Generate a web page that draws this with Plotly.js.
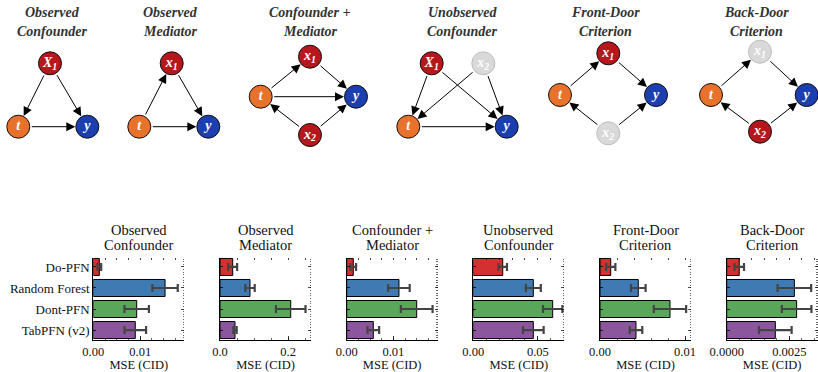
<!DOCTYPE html>
<html><head><meta charset="utf-8">
<script src="https://cdn.plot.ly/plotly-3.0.1.min.js"></script>
<style>html,body{margin:0;padding:0;background:#fff}#chart{width:818px;height:372px}</style>
</head><body><div id="chart"></div>
<script>
// ---------------- data ----------------
const methods = ['Do-PFN', 'Random Forest', 'Dont-PFN', 'TabPFN (v2)'];
const scenarioTitles = [
  ['Observed', 'Confounder'], ['Observed', 'Mediator'], ['Confounder +', 'Mediator'],
  ['Unobserved', 'Confounder'], ['Front-Door', 'Criterion'], ['Back-Door', 'Criterion']
];
const mseObsConf   = [0.00128, 0.0153, 0.00925, 0.00895];
const errObsConf   = [0.0004, 0.0027, 0.0026, 0.0023];
const mseObsMed    = [0.0373, 0.088, 0.2075, 0.044];
const errObsMed    = [0.013, 0.0138, 0.0434, 0.005];
const mseConfMed   = [0.00141, 0.0112, 0.0150, 0.0057];
const errConfMed   = [0.0006, 0.0023, 0.0034, 0.00125];
const mseUnobsConf = [0.0228, 0.0465, 0.0615, 0.0465];
const errUnobsConf = [0.0033, 0.0058, 0.0075, 0.008];
const mseFrontDoor = [0.00126, 0.0045, 0.00823, 0.00423];
const errFrontDoor = [0.00055, 0.00086, 0.0019, 0.00074];
const mseBackDoor  = [0.0005, 0.0027, 0.00279, 0.00194];
const errBackDoor  = [0.00019, 0.00067, 0.00059, 0.00065];
const tickVals   = [[0, 0.01], [0, 0.2], [0, 0.01], [0, 0.05], [0, 0.01], [0, 0.0025]];
const tickLabels = [['0.00', '0.01'], ['0.0', '0.2'], ['0.00', '0.01'], ['0.00', '0.05'], ['0.00', '0.01'], ['0.0000', '0.0025']];
const xAxisTitle = 'MSE (CID)';

// causal graphs
const dagTitles = [
  ['Observed', 'Confounder'], ['Observed', 'Mediator'], ['Confounder +', 'Mediator'],
  ['Unobserved', 'Confounder'], ['Front-Door', 'Criterion'], ['Back-Door', 'Criterion']
];
const dagNodes = [
  [['X1', 'X<sub>1</sub>', 'cov'], ['t', 't', 'treat'], ['y', 'y', 'out']],
  [['x1', 'x<sub>1</sub>', 'cov'], ['t', 't', 'treat'], ['y', 'y', 'out']],
  [['x1', 'x<sub>1</sub>', 'cov'], ['t', 't', 'treat'], ['y', 'y', 'out'], ['x2', 'x<sub>2</sub>', 'cov']],
  [['X1', 'X<sub>1</sub>', 'cov'], ['x2', 'x<sub>2</sub>', 'hidden'], ['t', 't', 'treat'], ['y', 'y', 'out']],
  [['x1', 'x<sub>1</sub>', 'cov'], ['t', 't', 'treat'], ['y', 'y', 'out'], ['x2', 'x<sub>2</sub>', 'hidden']],
  [['x1', 'x<sub>1</sub>', 'hidden'], ['t', 't', 'treat'], ['y', 'y', 'out'], ['x2', 'x<sub>2</sub>', 'cov']]
];
const dagEdges = [
  [['X1', 't'], ['X1', 'y'], ['t', 'y']],
  [['t', 'x1'], ['x1', 'y'], ['t', 'y']],
  [['t', 'x1'], ['x1', 'y'], ['t', 'y'], ['x2', 't'], ['x2', 'y']],
  [['X1', 't'], ['X1', 'y'], ['x2', 't'], ['x2', 'y'], ['t', 'y']],
  [['t', 'x1'], ['x1', 'y'], ['x2', 't'], ['x2', 'y']],
  [['t', 'x1'], ['x1', 'y'], ['x2', 't'], ['x2', 'y']]
];

// ---------------- layout / style ----------------
const W = 818, H = 372;
const mseSets = [mseObsConf, mseObsMed, mseConfMed, mseUnobsConf, mseFrontDoor, mseBackDoor];
const errSets = [errObsConf, errObsMed, errConfMed, errUnobsConf, errFrontDoor, errBackDoor];
const methodColors = ['#d3302f', '#407ab2', '#5aa65a', '#8c569e'];
const xRanges = [0.0194, 0.267, 0.0195, 0.0705, 0.0107, 0.00363];
const minorSteps = [0.0025, 0.05, 0.0025, 0.01, 0.002, 0.0005];
const panelLeft = [93.3, 220, 346.7, 473.3, 600, 726.7];
const panelW = 91, plotTop = 257.5, plotBottom = 339.5;
const yRange = [3.45, -0.45];
const serif = 'Liberation Serif, Times New Roman, serif';

// DAG node pixel positions (layout)
const dagPos = [
  {X1: [50, 63.3], t: [18.3, 126.7], y: [87.3, 126.7]},
  {x1: [171.7, 63.3], t: [139.3, 126.7], y: [208.3, 126.7]},
  {x1: [310, 56.7], t: [260.7, 96.7], y: [356, 96.7], x2: [310, 135]},
  {X1: [431.7, 63.3], x2: [483.3, 63.3], t: [408.3, 126.7], y: [506.7, 126.7]},
  {x1: [608.3, 53.3], t: [560, 95], y: [656, 95], x2: [608.3, 133.3]},
  {x1: [760, 51.7], t: [711, 95], y: [806.7, 95], x2: [760, 131.7]}
];
const dagTitleX = [53, 170, 310.3, 462.4, 605.8, 756.8];
const roleFill = {cov: '#b5171d', treat: '#e8712b', out: '#1b3fae', hidden: '#d9d9d9'};
const roleLine = {cov: '#111', treat: '#111', out: '#111', hidden: '#bdbdbd'};

const traces = [];
const layout = {
  width: W, height: H,
  margin: {l: 0, r: 0, t: 0, b: 0},
  paper_bgcolor: '#fff', plot_bgcolor: 'rgba(0,0,0,0)',
  showlegend: false, bargap: 0.19,
  annotations: []
};

const yDom = [1 - plotBottom / H, 1 - plotTop / H];
for (let i = 0; i < 6; i++) {
  const k = i + 1, kt = i + 7;
  const xd = [panelLeft[i] / W, (panelLeft[i] + panelW) / W];
  const xName = k === 1 ? 'xaxis' : 'xaxis' + k;
  const yName = k === 1 ? 'yaxis' : 'yaxis' + k;
  const xr = k === 1 ? 'x' : 'x' + k;
  const yr = k === 1 ? 'y' : 'y' + k;
  layout[xName] = {
    domain: xd, anchor: yr, range: [0, xRanges[i]],
    showline: true, linecolor: '#000', linewidth: 1,
    ticks: 'inside', ticklen: 3.5, tickwidth: 0.8, tickcolor: '#000',
    tickmode: 'array', tickvals: tickVals[i], ticktext: tickLabels[i],
    minor: {tickmode: 'linear', tick0: 0, dtick: minorSteps[i], ticks: 'inside', ticklen: 2, tickwidth: 0.6, tickcolor: '#000'},
    tickfont: {family: serif, size: 12.5, color: '#111'},
    showgrid: false, zeroline: false,
    title: {text: xAxisTitle, font: {family: serif, size: 12.5, color: '#111'}, standoff: 4}
  };
  layout[yName] = {
    domain: yDom, anchor: xr, type: 'category', categoryarray: methods, range: yRange,
    showline: true, linecolor: '#000', linewidth: 1,
    ticks: 'inside', ticklen: 3, tickwidth: 0.8, tickcolor: '#000',
    showticklabels: i === 0, tickfont: {family: serif, size: 13, color: '#111'},
    showgrid: false, zeroline: false
  };
  // top tick overlay
  layout['xaxis' + kt] = {
    overlaying: xr, side: 'top', anchor: yr, range: [0, xRanges[i]],
    showline: false, ticks: 'inside', tickmode: 'linear', tick0: 0, dtick: minorSteps[i],
    ticklen: 2.5, tickwidth: 0.7, tickcolor: '#000', showticklabels: false,
    showgrid: false, zeroline: false
  };
  // right tick overlay
  layout['yaxis' + kt] = {
    overlaying: yr, side: 'right', anchor: xr, range: yRange,
    showline: false, ticks: 'inside', tickmode: 'array', tickvals: [0, 1, 2, 3],
    ticklen: 3, tickwidth: 0.7, tickcolor: '#000', showticklabels: false,
    minor: {tickmode: 'linear', tick0: -0.5, dtick: 0.125, ticks: 'inside', ticklen: 1.5, tickwidth: 0.6, tickcolor: '#000'},
    showgrid: false, zeroline: false
  };
  traces.push({
    type: 'bar', orientation: 'h', x: mseSets[i], y: methods, xaxis: xr, yaxis: yr,
    marker: {color: methodColors, line: {color: '#000', width: 1}},
    error_x: {type: 'data', array: errSets[i], color: '#444', thickness: 2.2, width: 4},
    hoverinfo: 'skip'
  });
  traces.push({type: 'scatter', x: [], y: [], xaxis: 'x' + kt, yaxis: yr, hoverinfo: 'skip'});
  traces.push({type: 'scatter', x: [], y: [], xaxis: xr, yaxis: 'y' + kt, hoverinfo: 'skip'});
  // panel titles
  const cx = (panelLeft[i] + panelW / 2) / W;
  [230, 244.5].forEach((py, j) => layout.annotations.push({
    xref: 'paper', yref: 'paper', x: cx, y: 1 - py / H, xanchor: 'center', yanchor: 'middle',
    text: scenarioTitles[i][j], showarrow: false, font: {family: serif, size: 14.5, color: '#111'}
  }));
}

// ---------------- DAGs ----------------
layout.xaxis13 = {domain: [0, 1], range: [0, W], anchor: 'y13', visible: false, fixedrange: true};
layout.yaxis13 = {domain: [1 - 190 / H, 1], range: [190, 0], anchor: 'x13', visible: false, fixedrange: true};
for (let g = 0; g < 6; g++) {
  const pos = dagPos[g];
  dagEdges[g].forEach(([a, b]) => layout.annotations.push({
    xref: 'x13', yref: 'y13', axref: 'x13', ayref: 'y13',
    x: pos[b][0], y: pos[b][1], ax: pos[a][0], ay: pos[a][1], text: '',
    showarrow: true, arrowhead: 2, arrowsize: 1.8, arrowwidth: 1, arrowcolor: '#000',
    standoff: 12, startstandoff: 12
  }));
  const nodes = dagNodes[g];
  traces.push({
    type: 'scatter', mode: 'markers+text', xaxis: 'x13', yaxis: 'y13',
    x: nodes.map(n => pos[n[0]][0]), y: nodes.map(n => pos[n[0]][1]),
    text: nodes.map(n => n[1]), textposition: 'middle center',
    textfont: {family: serif, size: 14, color: '#fff', weight: 'bold', style: 'italic'},
    marker: {size: 23, color: nodes.map(n => roleFill[n[2]]), line: {color: nodes.map(n => roleLine[n[2]]), width: 1}},
    hoverinfo: 'skip', cliponaxis: false
  });
  [13, 31].forEach((py, j) => layout.annotations.push({
    xref: 'paper', yref: 'paper', x: dagTitleX[g] / W, y: 1 - py / H, xanchor: 'center', yanchor: 'middle',
    text: '<b><i>' + dagTitles[g][j] + '</i></b>', showarrow: false,
    font: {family: serif, size: 14, color: '#333'}
  }));
}

Plotly.newPlot('chart', traces, layout, {staticPlot: true, displayModeBar: false});
</script>
</body></html>
